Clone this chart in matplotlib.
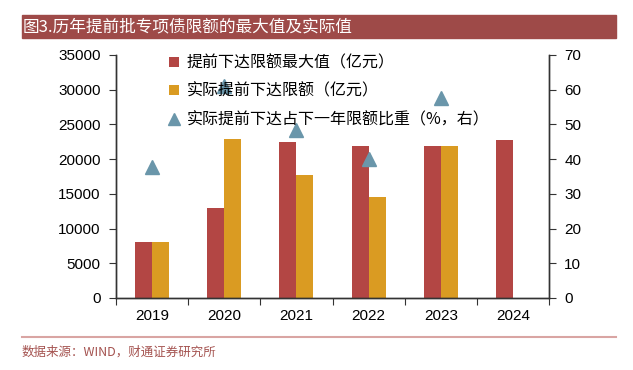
import matplotlib
matplotlib.use("Agg")
import matplotlib.pyplot as plt
import numpy as np

plt.rcParams['font.family'] = ['Liberation Sans', 'Noto Sans CJK SC', 'DejaVu Sans']

# data (亿元 / %)
years = ['2019', '2020', '2021', '2022', '2023', '2024']
max_quota = [8100, 12900, 22500, 21900, 21900, 22800]
actual_quota = [8100, 22900, 17700, 14600, 21900]      # no 2024 value yet
share_pct = [37.7, 61.1, 48.5, 40.0, 57.6]             # right axis

label_max = '提前下达限额最大值（亿元）'
label_act = '实际提前下达限额（亿元）'
label_share = '实际提前下达占下一年限额比重（%，右）'
title = '图3.历年提前批专项债限额的最大值及实际值'
source = '数据来源：WIND，财通证券研究所'

c_red = '#B34644'
c_orange = '#DA9B22'
c_blue = '#6A96AA'
c_banner = '#9E4A48'

fig = plt.figure(figsize=(6.33, 3.70), dpi=100)
ax = fig.add_axes([0.1833, 0.1946, 0.684, 0.6568])
ax2 = ax.twinx()

x = np.arange(len(years))
w = 0.235
ax.bar(x - w/2, max_quota, width=w, color=c_red, label=label_max, zorder=2)
xa = np.arange(len(actual_quota))
ax.bar(xa + w/2, actual_quota, width=w, color=c_orange, label=label_act, zorder=2)

xs = np.arange(len(share_pct))
ax2.plot(xs, share_pct, linestyle='none', marker='^', ms=10, color=c_blue, label=label_share, zorder=1)

ax.set_xlim(-0.5, len(years) - 0.5)
ax.set_ylim(0, 35000)
ax.set_yticks(np.arange(0, 35001, 5000))
ax2.set_ylim(0, 70)
ax2.set_yticks(np.arange(0, 71, 10))

# ticks between categories, labels centred
ax.set_xticks(np.arange(-0.5, len(years), 1.0))
ax.set_xticklabels([])
ax.set_xticks(x, minor=True)
ax.set_xticklabels(years, minor=True, fontsize=11)
ax.tick_params(axis='x', which='minor', length=0, pad=8)
ax.tick_params(axis='x', which='major', length=5, direction='out', color='#333333')
ax.tick_params(axis='y', labelsize=11, length=5, pad=6, direction='out', color='#333333')
ax2.tick_params(axis='y', labelsize=11, length=5, pad=6, direction='out', color='#333333')

for a in (ax, ax2):
    a.spines['top'].set_visible(False)
    for s in ('left', 'right', 'bottom'):
        a.spines[s].set_color('#333333')
        a.spines[s].set_linewidth(1.0)

# legend drawn over the triangles
h1, l1 = ax.get_legend_handles_labels()
h2, l2 = ax2.get_legend_handles_labels()
leg = ax2.legend(h1 + h2, l1 + l2, loc='upper left', bbox_to_anchor=(0.09, 1.06),
                 frameon=False, handlelength=0.6, handleheight=0.6, handletextpad=0.5,
                 labelspacing=0.7, markerscale=0.8,
                 prop={'family': ['Noto Sans CJK SC'], 'size': 11.5})
leg.set_zorder(10)

# title banner
fig.patches.append(plt.Rectangle((22/633, 1 - 38/370), 594/633, 23/370,
                                 transform=fig.transFigure, color=c_banner, zorder=0))
fig.text(23/633, 1 - 26.5/370, title, color='white', fontsize=12, va='center', ha='left',
         family=['Noto Sans CJK SC', 'DejaVu Sans'])

# source line
fig.add_artist(plt.Line2D([22/633, 616/633], [1 - 337/370, 1 - 337/370],
                          transform=fig.transFigure, color='#D9A5A3', lw=1.5))
fig.text(22/633, 1 - 352/370, source, color='#A4524F', fontsize=9, va='center', ha='left',
         family=['Noto Sans CJK SC', 'DejaVu Sans'])

fig.savefig('out.png', dpi=100)
